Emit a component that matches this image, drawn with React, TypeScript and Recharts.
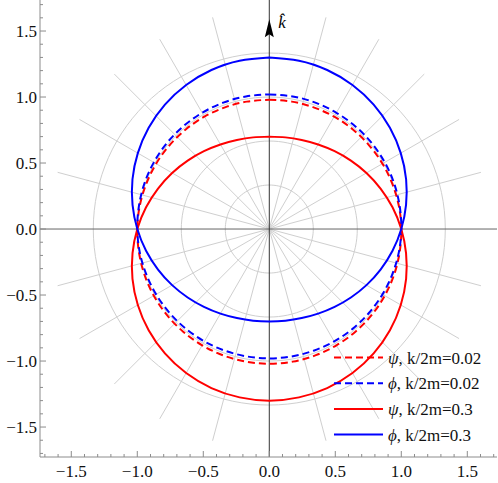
import React from 'react';
import { ComposedChart, Line, XAxis, YAxis, ReferenceLine, ReferenceDot } from 'recharts';

// polar angle (degrees, measured clockwise from the k-hat direction)
const angles = [0, 10, 20, 30, 40, 50, 60, 70, 80, 90, 100, 110, 120, 130, 140, 150, 160, 170, 180,
    190, 200, 210, 220, 230, 240, 250, 260, 270, 280, 290, 300, 310, 320, 330, 340, 350, 360];

// radius for each curve
const psiSmall = [0.980, 0.980, 0.981, 0.983, 0.985, 0.987, 0.990, 0.993, 0.997, 1.000, 1.003, 1.007, 1.010, 1.013, 1.015, 1.017, 1.019, 1.020, 1.020,
    1.020, 1.019, 1.017, 1.015, 1.013, 1.010, 1.007, 1.003, 1.000, 0.997, 0.993, 0.990, 0.987, 0.985, 0.983, 0.981, 0.980, 0.980];
const phiSmall = [1.020, 1.020, 1.019, 1.017, 1.015, 1.013, 1.010, 1.007, 1.003, 1.000, 0.997, 0.993, 0.990, 0.987, 0.985, 0.983, 0.981, 0.980, 0.980,
    0.980, 0.981, 0.983, 0.985, 0.987, 0.990, 0.993, 0.997, 1.000, 1.003, 1.007, 1.010, 1.013, 1.015, 1.017, 1.019, 1.020, 1.020];
const psiLarge = [0.700, 0.705, 0.718, 0.740, 0.770, 0.807, 0.850, 0.897, 0.948, 1.000, 1.052, 1.103, 1.150, 1.193, 1.230, 1.260, 1.282, 1.295, 1.300,
    1.295, 1.282, 1.260, 1.230, 1.193, 1.150, 1.103, 1.052, 1.000, 0.948, 0.897, 0.850, 0.807, 0.770, 0.740, 0.718, 0.705, 0.700];
const phiLarge = [1.300, 1.295, 1.282, 1.260, 1.230, 1.193, 1.150, 1.103, 1.052, 1.000, 0.948, 0.897, 0.850, 0.807, 0.770, 0.740, 0.718, 0.705, 0.700,
    0.705, 0.718, 0.740, 0.770, 0.807, 0.850, 0.897, 0.948, 1.000, 1.052, 1.103, 1.150, 1.193, 1.230, 1.260, 1.282, 1.295, 1.300];

const series = [
    { name: 'psiSmall', sym: 'ψ', label: ', k/2m=0.02', r: psiSmall, color: '#ff0000', dash: '7 4' },
    { name: 'phiSmall', sym: 'ϕ', label: ', k/2m=0.02', r: phiSmall, color: '#0000ff', dash: '7 4' },
    { name: 'psiLarge', sym: 'ψ', label: ', k/2m=0.3', r: psiLarge, color: '#ff0000', dash: undefined },
    { name: 'phiLarge', sym: 'ϕ', label: ', k/2m=0.3', r: phiLarge, color: '#0000ff', dash: undefined },
];

// polar grid
const gridRadii = [1 / 3, 2 / 3, 1, 4 / 3];
const spokeAngles = [15, 30, 45, 60, 75, 105, 120, 135, 150, 165, 195, 210, 225, 240, 255, 285, 300, 315, 330, 345];
const spokeLength = 1.66;

const xTicks = [-1.7, -1.6, -1.5, -1.4, -1.3, -1.2, -1.1, -1.0, -0.9, -0.8, -0.7, -0.6, -0.5, -0.4, -0.3, -0.2, -0.1, 0,
    0.1, 0.2, 0.3, 0.4, 0.5, 0.6, 0.7, 0.8, 0.9, 1.0, 1.1, 1.2, 1.3, 1.4, 1.5, 1.6, 1.7];
const yTicks = xTicks;

const X_DOMAIN = [-1.737, 1.725];
const Y_DOMAIN = [-1.727, 1.735];

const FONT = 'Liberation Serif';
const FRAME = '#8c8c8c';
const GRID = '#cfcfcf';
const textStyle = { fontFamily: FONT, fontSize: 17 };

const rad = (deg: number) => (deg * Math.PI) / 180;

const toPoints = (r: number[]) =>
    angles.map((a, i) => ({ x: r[i] * Math.sin(rad(a)), y: r[i] * Math.cos(rad(a)) }));

const circlePoints = (radius: number) => {
    const pts = [];
    for (let a = 0; a <= 360; a += 3) {
        pts.push({ x: radius * Math.sin(rad(a)), y: radius * Math.cos(rad(a)) });
    }
    return pts;
};

const isMajor = (v: number) => Math.abs(v * 2 - Math.round(v * 2)) < 1e-6;
const fmt = (v: number) => (v < 0 ? '\u2212' + Math.abs(v).toFixed(1) : v.toFixed(1));

const BottomTick = ({ x, y, payload }: any) => {
    const major = isMajor(payload.value);
    return (
        <g>
            <line x1={x} x2={x} y1={y} y2={y - (major ? 6 : 3)} stroke={FRAME} />
            {major && (
                <text x={x} y={y + 20} textAnchor="middle" style={textStyle} fill="#111">
                    {fmt(payload.value)}
                </text>
            )}
        </g>
    );
};

const TopTick = ({ x, y, payload }: any) => (
    <line x1={x} x2={x} y1={y} y2={y + (isMajor(payload.value) ? 6 : 3)} stroke={FRAME} />
);

const LeftTick = ({ x, y, payload }: any) => {
    const major = isMajor(payload.value);
    return (
        <g>
            <line x1={x} x2={x + (major ? 6 : 3)} y1={y} y2={y} stroke={FRAME} />
            {major && (
                <text x={x - 3} y={y + 6} textAnchor="end" style={textStyle} fill="#111">
                    {fmt(payload.value)}
                </text>
            )}
        </g>
    );
};

const RightTick = ({ x, y, payload }: any) => (
    <line x1={x} x2={x - (isMajor(payload.value) ? 6 : 3)} y1={y} y2={y} stroke={FRAME} />
);

const ArrowHead = ({ cx, cy }: any) => (
    <g>
        <polygon
            points={`${cx},${cy} ${cx - 4.5},${cy + 18} ${cx},${cy + 15} ${cx + 4.5},${cy + 18}`}
            fill="#000"
        />
        <text x={cx + 9} y={cy + 9} style={{ ...textStyle, fontStyle: 'italic' }} fill="#000">
            {'k\u0302'}
        </text>
    </g>
);

const LegendBox = () => (
    <svg width={170} height={110} style={{ position: 'absolute', left: 330, top: 345 }}>
        {series.map((s, i) => {
            const cy = 12.5 + i * 25.7;
            return (
                <g key={s.name}>
                    <line x1={4} x2={53} y1={cy} y2={cy} stroke={s.color} strokeWidth={2} strokeDasharray={s.dash} />
                    <text x={58} y={cy + 6} style={textStyle} fill="#111">
                        <tspan fontStyle="italic">{s.sym}</tspan>
                        {s.label}
                    </text>
                </g>
            );
        })}
    </svg>
);

export default function App() {
    return (
        <div style={{ position: 'absolute', left: 0, top: 0, width: 498, height: 483, background: '#fff' }}>
            <ComposedChart width={498} height={483} margin={{ top: 0, right: 1, bottom: 0, left: 0 }}>
                <XAxis
                    xAxisId="b"
                    type="number"
                    dataKey="x"
                    orientation="bottom"
                    domain={X_DOMAIN}
                    allowDataOverflow
                    ticks={xTicks}
                    interval={0}
                    height={26}
                    tickSize={0}
                    tickMargin={0}
                    tick={<BottomTick />}
                    axisLine={{ stroke: FRAME }}
                />
                <XAxis
                    xAxisId="t"
                    type="number"
                    orientation="top"
                    domain={X_DOMAIN}
                    allowDataOverflow
                    ticks={xTicks}
                    interval={0}
                    height={0}
                    tickSize={0}
                    tickMargin={0}
                    tick={<TopTick />}
                    axisLine={{ stroke: FRAME }}
                />
                <YAxis
                    yAxisId="l"
                    type="number"
                    dataKey="y"
                    orientation="left"
                    domain={Y_DOMAIN}
                    allowDataOverflow
                    ticks={yTicks}
                    interval={0}
                    width={40}
                    tickSize={0}
                    tickMargin={0}
                    tick={<LeftTick />}
                    axisLine={{ stroke: FRAME }}
                />
                <YAxis
                    yAxisId="r"
                    type="number"
                    orientation="right"
                    domain={Y_DOMAIN}
                    allowDataOverflow
                    ticks={yTicks}
                    interval={0}
                    width={0}
                    tickSize={0}
                    tickMargin={0}
                    tick={<RightTick />}
                    axisLine={{ stroke: FRAME }}
                />

                {gridRadii.map((r) => (
                    <Line
                        key={`circle-${r}`}
                        xAxisId="b"
                        yAxisId="l"
                        data={circlePoints(r)}
                        dataKey="y"
                        stroke={GRID}
                        strokeWidth={1}
                        dot={false}
                        activeDot={false}
                        isAnimationActive={false}
                    />
                ))}
                {spokeAngles.map((a) => (
                    <Line
                        key={`spoke-${a}`}
                        xAxisId="b"
                        yAxisId="l"
                        data={[
                            { x: 0, y: 0 },
                            { x: spokeLength * Math.sin(rad(a)), y: spokeLength * Math.cos(rad(a)) },
                        ]}
                        dataKey="y"
                        stroke={GRID}
                        strokeWidth={1}
                        dot={false}
                        activeDot={false}
                        isAnimationActive={false}
                    />
                ))}

                <ReferenceLine xAxisId="b" yAxisId="l" y={0} stroke="#666" strokeWidth={1} />
                <ReferenceLine xAxisId="b" yAxisId="l" x={0} stroke="#333" strokeWidth={1} />
                <ReferenceDot xAxisId="b" yAxisId="l" x={0} y={1.59} shape={<ArrowHead />} />

                {series.map((s) => (
                    <Line
                        key={s.name}
                        xAxisId="b"
                        yAxisId="l"
                        type="natural"
                        data={toPoints(s.r)}
                        dataKey="y"
                        stroke={s.color}
                        strokeWidth={2}
                        strokeDasharray={s.dash}
                        dot={false}
                        activeDot={false}
                        isAnimationActive={false}
                    />
                ))}
            </ComposedChart>
            <LegendBox />
        </div>
    );
}
